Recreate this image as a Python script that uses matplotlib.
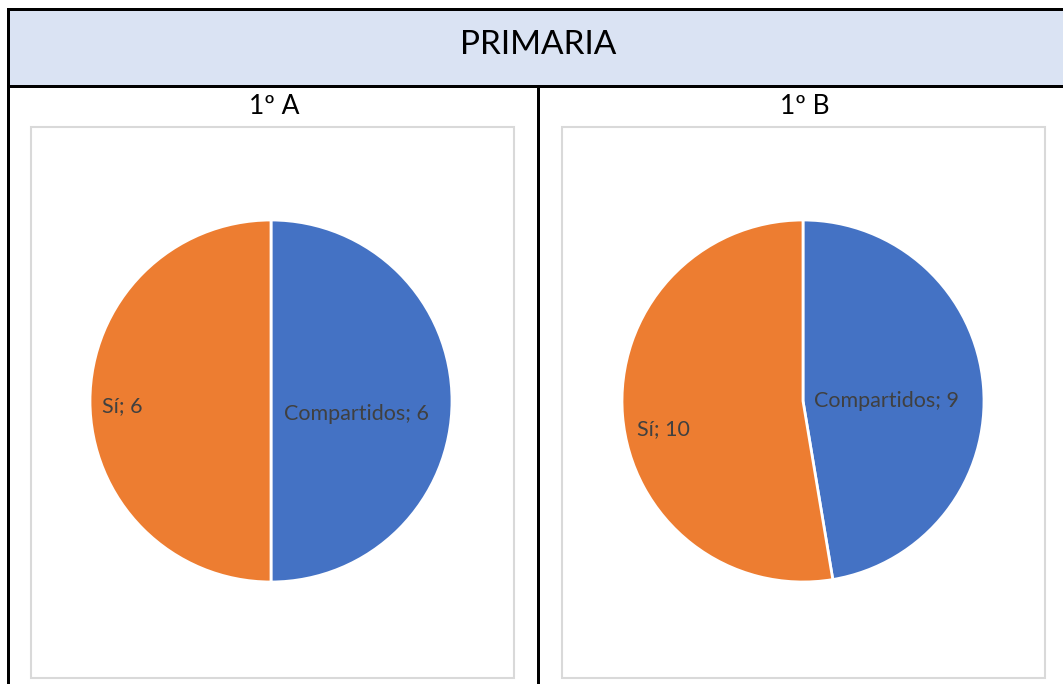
import matplotlib
matplotlib.use("Agg")
import matplotlib.pyplot as plt
from matplotlib.patches import Rectangle
from matplotlib.lines import Line2D

title = "PRIMARIA"
groups = ["1º A", "1º B"]
categories = ["Compartidos", "Sí"]
values_a = [6, 6]
values_b = [9, 10]
colors = ["#4472C4", "#ED7D31"]

W, H = 1063, 684
fig = plt.figure(figsize=(W / 100, H / 100), dpi=100)
fig.patch.set_facecolor("white")
FONT = "Lato"

def fx(x): return x / W
def fy(y): return 1 - y / H

# header band
fig.patches.append(Rectangle((fx(8), fy(86)), fx(W - 8), (86 - 9) / H,
                             transform=fig.transFigure, facecolor="#DAE3F3",
                             edgecolor="none", zorder=0))
lw = 3
for (x0, y0, x1, y1) in [(8, 9, W, 9), (8, 86, W, 86), (8, 9, 8, H), (538, 86, 538, H)]:
    fig.add_artist(Line2D([fx(x0), fx(x1)], [fy(y0), fy(y1)], transform=fig.transFigure,
                          color="black", lw=lw * 0.72, solid_capstyle="projecting"))

fig.text(fx(538.5), fy(45), title, ha="center", va="center", fontsize=24,
         family=FONT, color="#000000")

frames = [(31, 127, 514, 678), (562, 127, 1045, 678)]
centers = [(271, 401), (803, 401)]
R = 181
label_pos = [
    [(0.47, -0.07), (-0.82, -0.03)],
    [(0.46, 0.0), (-0.77, -0.155)],
]
all_vals = [values_a, values_b]

for i in range(2):
    x0, y0, x1, y1 = frames[i]
    fig.patches.append(Rectangle((fx(x0), fy(y1)), (x1 - x0) / W, (y1 - y0) / H,
                                 transform=fig.transFigure, facecolor="white",
                                 edgecolor="#D9D9D9", lw=1.5, zorder=1))
    cx = (frames[i][0] + frames[i][2]) / 2
    fig.text(fx(cx + 1.5), fy(107), groups[i], ha="center", va="center", fontsize=19,
             family=FONT, color="#000000")
    pcx, pcy = centers[i]
    ax = fig.add_axes([fx(pcx - R - 2), fy(pcy + R + 2), (2 * R + 4) / W, (2 * R + 4) / H])
    ax.set_zorder(2)
    ax.pie(all_vals[i], colors=colors, startangle=90, counterclock=False,
           radius=1, wedgeprops=dict(edgecolor="white", linewidth=2))
    lim = (R + 2) / R
    ax.set_xlim(-lim, lim)
    ax.set_ylim(-lim, lim)
    ax.set_aspect("equal")
    ax.axis("off")
    for j, cat in enumerate(categories):
        lx, ly = label_pos[i][j]
        ax.text(lx, ly, f"{cat}; {all_vals[i][j]}", ha="center", va="center",
                fontsize=15.5, family=FONT, color="#404040")

fig.savefig("out.png", dpi=100)
